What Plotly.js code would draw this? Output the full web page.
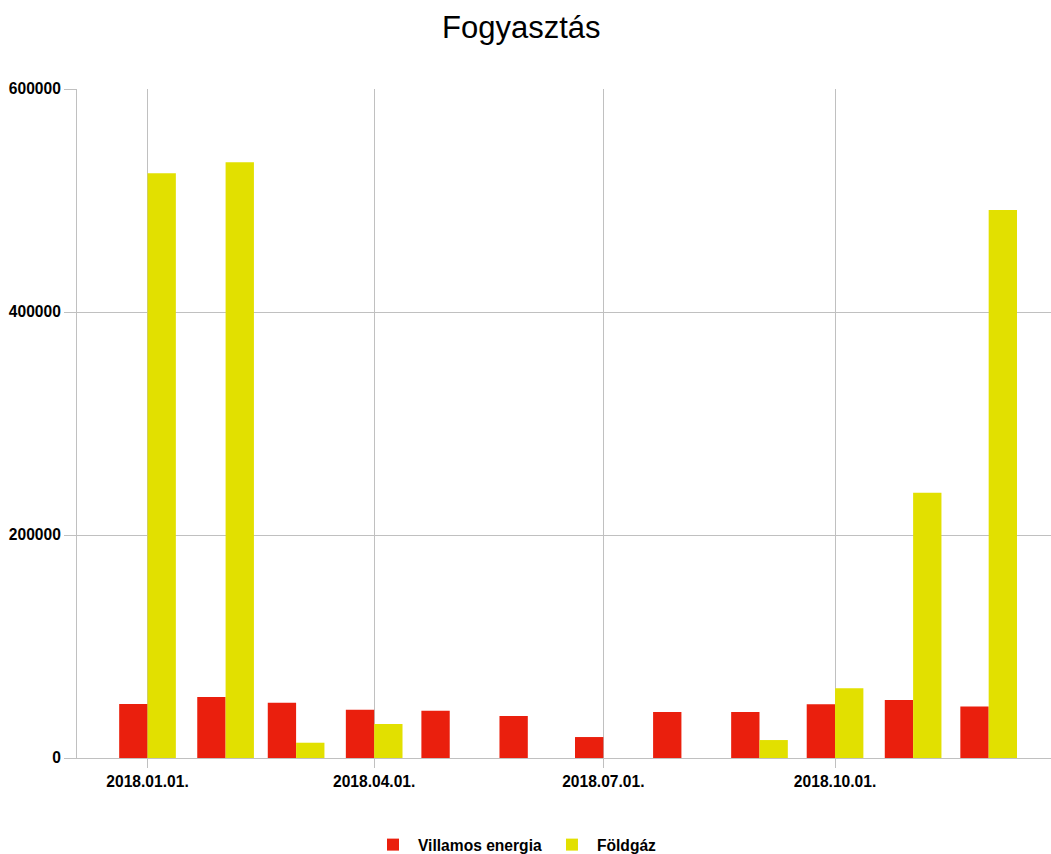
<!DOCTYPE html>
<html>
<head>
<meta charset="utf-8">
<script src="https://cdn.plot.ly/plotly-3.0.1.min.js"></script>
<style>html,body{margin:0;padding:0;background:#fff;}#chart{width:1051px;height:854px;}</style>
</head>
<body>
<div id="chart"></div>
<script>
const months = ['2018-01-01','2018-02-01','2018-03-01','2018-04-01','2018-05-01','2018-06-01',
                '2018-07-01','2018-08-01','2018-09-01','2018-10-01','2018-11-01','2018-12-01'];
const villamos = [48400, 54700, 49500, 43300, 42400, 37700, 18800, 41300, 41200, 48100, 52000, 46300];
const foldgaz  = [524400, 534300, 13700, 30500, null, null, null, null, 16100, 62500, 237800, 491500];
const seriesNames = ['Villamos energia', 'Földgáz'];
const colors = ['#ea1f0d', '#e2e000'];
const yTicks = [0, 200000, 400000, 600000];

const DAY = 86400000;
const barW = 11.25 * DAY;

const traces = [
  {type:'bar', name:seriesNames[0], x:months, y:villamos, width:barW, offset:-barW,
   marker:{color:colors[0], line:{width:0}}},
  {type:'bar', name:seriesNames[1], x:months, y:foldgaz, width:barW, offset:0,
   marker:{color:colors[1], line:{width:0}}}
];

const tickFont = {family:'Liberation Sans, Arial, sans-serif', size:15.6, color:'#000', weight:'bold'};

const layout = {
  width:1051, height:854,
  margin:{l:77, r:0, t:89, b:96, autoexpand:false},
  paper_bgcolor:'#fff', plot_bgcolor:'#fff',
  barmode:'overlay',
  showlegend:true,
  title:{text:'Fogyasztás', x:0.496, xanchor:'center', y:1-27/854, yanchor:'middle',
         font:{family:'Liberation Sans, Arial, sans-serif', size:31, color:'#000'}},
  xaxis:{type:'date', range:['2017-12-04','2018-12-25 18:00'],
         tick0:'2018-01-01', dtick:'M3', tickformat:'%Y.%m.%d.',
         showgrid:true, gridcolor:'#c0c0c0', gridwidth:1,
         ticks:'outside', ticklen:9, tickcolor:'#c0c0c0',
         showline:true, linecolor:'#c0c0c0', linewidth:1,
         tickfont:tickFont, zeroline:false, automargin:false},
  yaxis:{range:[0,600000], tickvals:yTicks, ticktext:yTicks.map(String),
         showgrid:true, gridcolor:'#c0c0c0', gridwidth:1,
         ticks:'outside', ticklen:12, tickcolor:'#c0c0c0',
         showline:true, linecolor:'#c0c0c0', linewidth:1,
         tickfont:tickFont, zeroline:false, automargin:false},
  legend:{orientation:'h', xref:'container', x:0.49, xanchor:'center', y:-0.1046, yanchor:'top',
          font:{family:'Liberation Sans, Arial, sans-serif', size:15.6, color:'#000', weight:'bold'},
          itemwidth:40, traceorder:'normal'}
};

Plotly.newPlot('chart', traces, layout, {displayModeBar:false, staticPlot:true});
</script>
</body>
</html>
